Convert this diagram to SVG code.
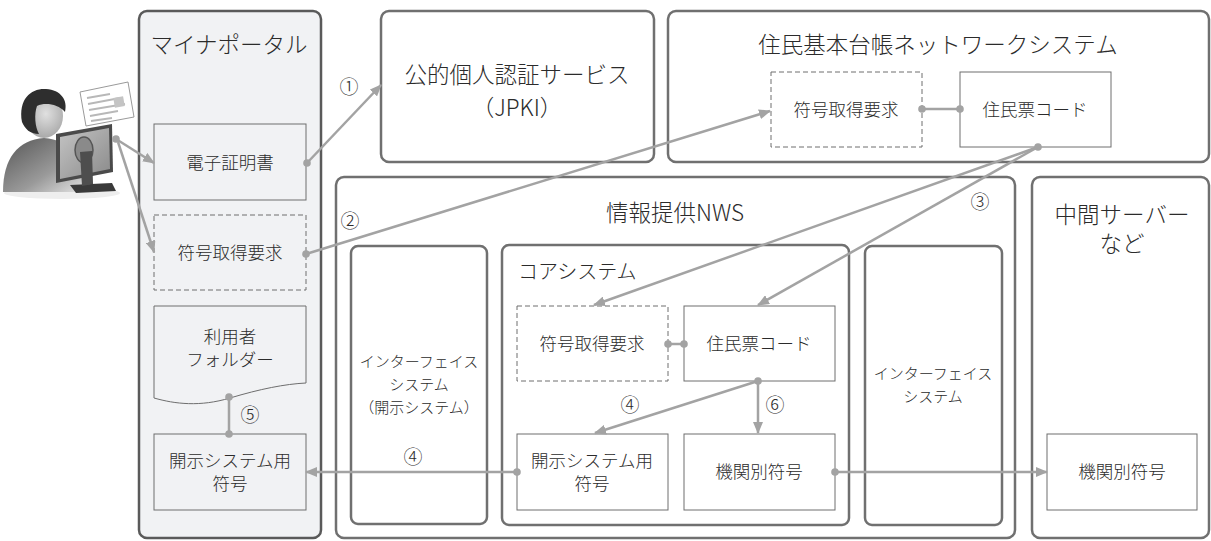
<svg xmlns="http://www.w3.org/2000/svg" width="1211" height="541" viewBox="0 0 1211 541">
  <style>
    .outer { fill: #ffffff; stroke: #707070; stroke-width: 2.5; }
    .portal { fill: #f1f2f4; stroke: #5a5a5a; stroke-width: 2.5; }
    .box { fill: #ffffff; stroke: #6e6e6e; stroke-width: 1; }
    .pbox { fill: #f1f2f4; stroke: #6e6e6e; stroke-width: 1; }
    .dash { stroke-dasharray: 5 3; }
    .t { font-family: "Noto Sans CJK JP", "Noto Sans", sans-serif; font-weight: 300; fill: #2b2b2b; text-anchor: middle; }
    .title { font-size: 22.5px; }
    .lbl { font-size: 17.5px; }
    .ifl { font-size: 15px; }
    .num { font-size: 19px; }
    .conn { stroke: #a3a3a3; stroke-width: 2.5; fill: none; }
  </style>
  <defs>
    <marker id="arrow" markerUnits="userSpaceOnUse" markerWidth="12" markerHeight="10" refX="11" refY="5" orient="auto">
      <path d="M0,0 L12,5 L0,10 Z" fill="#a3a3a3"/>
    </marker>
    <marker id="dot" markerUnits="userSpaceOnUse" markerWidth="9" markerHeight="9" refX="4.5" refY="4.5">
      <circle cx="4.5" cy="4.5" r="3.8" fill="#a3a3a3"/>
    </marker>
    <linearGradient id="bodyG" x1="0" y1="0" x2="1" y2="1">
      <stop offset="0" stop-color="#555555"/>
      <stop offset="0.6" stop-color="#9a9a9a"/>
      <stop offset="1" stop-color="#e6e6e6"/>
    </linearGradient>
    <radialGradient id="faceG" cx="0.55" cy="0.45" r="0.7">
      <stop offset="0" stop-color="#e0e0e0"/>
      <stop offset="1" stop-color="#9a9a9a"/>
    </radialGradient>
    <linearGradient id="monG" x1="0" y1="0" x2="1" y2="1">
      <stop offset="0" stop-color="#c4c4c4"/>
      <stop offset="1" stop-color="#8a8a8a"/>
    </linearGradient>
  </defs>

  <!-- user at a terminal -->
  <g id="user">
    <ellipse cx="62" cy="193" rx="58" ry="6" fill="#eeeeee"/>
    <path d="M3,192 C3,158 18,140 44,138 C70,140 86,158 86,192 Z" fill="url(#bodyG)"/>
    <ellipse cx="44" cy="116" rx="19" ry="22" fill="url(#faceG)"/>
    <path d="M22,122 C18,98 32,88 46,89 C61,90 68,100 65,112 C58,104 45,102 37,106 C34,114 35,127 39,134 C30,134 25,129 22,122 Z" fill="#2e2e2e"/>
    <path d="M80,92 L128,82 L134,117 L86,126 Z" fill="#ffffff" stroke="#9a9a9a" stroke-width="1"/>
    <path d="M87,98 L110,94 M88,104 L120,98 M89,110 L125,104 M90,116 L118,111 M91,121 L112,118" stroke="#b8b8b8" stroke-width="1.8"/>
    <rect x="114" y="97" width="10" height="10" fill="#c4c4c4" transform="rotate(-10 119 102)"/>
    <path d="M70,185 L112,183 L116,191 L76,193 Z" fill="#3a3a3a"/>
    <path d="M56,134 L112,124 L113,172 L56,183 Z" fill="#4a4a4a"/>
    <path d="M60,137 L109,128 L110,169 L60,179 Z" fill="url(#monG)"/>
    <ellipse cx="84" cy="150" rx="9" ry="13" fill="#8a8a8a" stroke="#555" stroke-width="1.5"/>
    <path d="M80,152 L92,151 L93,184 L82,186 Z" fill="#4e4e4e"/>
  </g>

  <!-- マイナポータル -->
  <g id="myna-portal">
    <rect class="portal" x="139" y="11" width="182" height="527" rx="8"/>
    <text class="t title" x="229" y="53">マイナポータル</text>
  </g>
  <g id="portal-cert">
    <rect class="pbox" x="154" y="124" width="152" height="76"/>
    <text class="t lbl" x="230" y="169">電子証明書</text>
  </g>
  <g id="portal-request">
    <rect class="pbox dash" x="154" y="215" width="152" height="75"/>
    <text class="t lbl" x="230" y="259">符号取得要求</text>
  </g>
  <g id="portal-folder">
    <path class="pbox" d="M154,306 H306 V383 C285,384 260,389 230,398 C200,407 175,404 154,398 Z"/>
    <text class="t lbl" x="230" y="343">利用者<tspan x="230" dy="23">フォルダー</tspan></text>
  </g>
  <g id="portal-code">
    <rect class="pbox" x="154" y="434" width="152" height="76"/>
    <text class="t lbl" x="230" y="467">開示システム用<tspan x="230" dy="23">符号</tspan></text>
  </g>

  <!-- 公的個人認証サービス -->
  <g id="jpki">
    <rect class="outer" x="381" y="11" width="273" height="151" rx="8"/>
    <text class="t title" x="517" y="83">公的個人認証サービス<tspan x="517" dy="33">（JPKI）</tspan></text>
  </g>

  <!-- 住民基本台帳ネットワークシステム -->
  <g id="juki-net">
    <rect class="outer" x="668" y="11" width="541" height="151" rx="8"/>
    <text class="t title" x="938" y="53">住民基本台帳ネットワークシステム</text>
  </g>
  <g id="juki-request">
    <rect class="box dash" x="771" y="72" width="151" height="75"/>
    <text class="t lbl" x="846" y="116">符号取得要求</text>
  </g>
  <g id="juki-code">
    <rect class="box" x="960" y="72" width="151" height="75"/>
    <text class="t lbl" x="1035" y="116">住民票コード</text>
  </g>

  <!-- 情報提供NWS -->
  <g id="nws">
    <rect class="outer" x="336" y="177" width="679" height="361" rx="8"/>
    <text class="t title" x="675" y="221">情報提供NWS</text>
  </g>
  <g id="if-disclosure">
    <rect class="outer" x="351" y="246" width="136" height="278" rx="7"/>
    <text class="t ifl" x="419" y="367">インターフェイス<tspan x="419" dy="23">システム</tspan><tspan x="419" dy="23">（開示システム）</tspan></text>
  </g>
  <g id="core">
    <rect class="outer" x="502" y="245" width="347" height="280" rx="7"/>
    <text class="t" x="518" y="279" style="text-anchor:start;font-size:20px">コアシステム</text>
  </g>
  <g id="core-request">
    <rect class="box dash" x="517" y="306" width="151" height="75"/>
    <text class="t lbl" x="592" y="350">符号取得要求</text>
  </g>
  <g id="core-code">
    <rect class="box" x="684" y="306" width="151" height="75"/>
    <text class="t lbl" x="759" y="350">住民票コード</text>
  </g>
  <g id="core-disclosure-code">
    <rect class="box" x="517" y="434" width="151" height="76"/>
    <text class="t lbl" x="592" y="467">開示システム用<tspan x="592" dy="23">符号</tspan></text>
  </g>
  <g id="core-agency-code">
    <rect class="box" x="684" y="434" width="151" height="76"/>
    <text class="t lbl" x="759" y="478">機関別符号</text>
  </g>
  <g id="if-system">
    <rect class="outer" x="865" y="246" width="137" height="279" rx="7"/>
    <text class="t ifl" x="933" y="379">インターフェイス<tspan x="933" dy="23">システム</tspan></text>
  </g>

  <!-- 中間サーバーなど -->
  <g id="middle-server">
    <rect class="outer" x="1032" y="177" width="177" height="361" rx="8"/>
    <text class="t" x="1122" y="223" style="font-size:22.5px">中間サーバー<tspan x="1122" dy="29">など</tspan></text>
  </g>
  <g id="middle-agency-code">
    <rect class="box" x="1047" y="434" width="150" height="76"/>
    <text class="t lbl" x="1122" y="478">機関別符号</text>
  </g>

  <!-- connectors -->
  <g id="connectors">
    <path class="conn" d="M116,139 L154,163" marker-start="url(#dot)" marker-end="url(#arrow)"/>
    <path class="conn" d="M118,142 L154,252" marker-end="url(#arrow)"/>
    <path class="conn" d="M307,163 L381,85" marker-start="url(#dot)" marker-end="url(#arrow)"/>
    <path class="conn" d="M306,254 L770,111" marker-start="url(#dot)" marker-end="url(#arrow)"/>
    <path class="conn" d="M922,109 L960,109" marker-start="url(#dot)" marker-end="url(#dot)"/>
    <path class="conn" d="M1038,147 L594,305" marker-start="url(#dot)" marker-end="url(#arrow)"/>
    <path class="conn" d="M1038,147 L758,305" marker-end="url(#arrow)"/>
    <path class="conn" d="M668,344 L684,344" marker-start="url(#dot)" marker-end="url(#dot)"/>
    <path class="conn" d="M758,381 L595,433" marker-start="url(#dot)" marker-end="url(#arrow)"/>
    <path class="conn" d="M758,381 L758,433" marker-end="url(#arrow)"/>
    <path class="conn" d="M517,472 L306,472" marker-start="url(#dot)" marker-end="url(#arrow)"/>
    <path class="conn" d="M229,397 L229,434" marker-start="url(#dot)" marker-end="url(#dot)"/>
    <path class="conn" d="M835,472 L1047,472" marker-start="url(#dot)" marker-end="url(#arrow)"/>
    <text class="t num" x="349" y="94">①</text>
    <text class="t num" x="350" y="228">②</text>
    <text class="t num" x="980" y="209">③</text>
    <text class="t num" x="630" y="412">④</text>
    <text class="t num" x="775" y="412">⑥</text>
    <text class="t num" x="413" y="464">④</text>
    <text class="t num" x="250" y="422">⑤</text>
  </g>
</svg>
